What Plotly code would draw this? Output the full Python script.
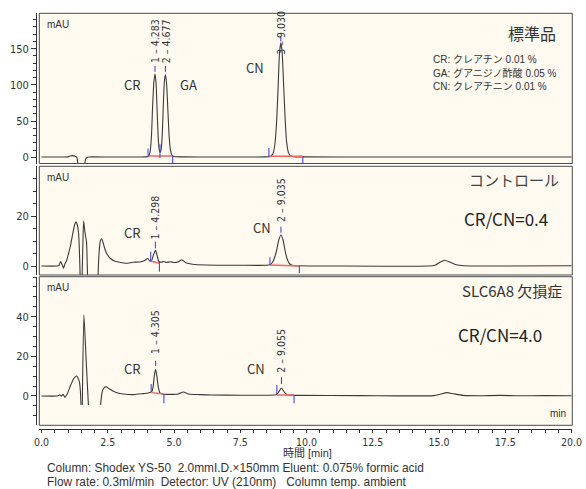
import plotly.graph_objects as go

# ---------------- data ----------------
# Panel 1: standard (標準品)
std_t = [0, 0.6, 1.0, 1.08, 1.17, 1.26, 1.33, 1.39, None, 1.62, 1.66, 1.72, 1.8, 2.6, 3.5,
         3.95, 4.04, 4.10, 4.15, 4.19, 4.24, 4.283, 4.32, 4.36, 4.40, 4.44, 4.48, 4.52, 4.56,
         4.60, 4.64, 4.677, 4.72, 4.77, 4.82, 4.87, 4.93, 5.0, 5.3, 6.5, 8.0, 8.45, 8.62, 8.72,
         8.80, 8.87, 8.93, 8.98, 9.03, 9.08, 9.13, 9.19, 9.25, 9.32, 9.40, 9.52, 9.8, 12.5, 16, 20]
std_v = [0.5, 0.5, 0.6, 1.8, 2.3, 1.6, 0.3, -15, None, -15, -3, 0.1, 0.5, 0.4, 0.5,
         0.6, 1.5, 8, 30, 68, 104, 115, 104, 68, 30, 11, 7, 12, 34,
         76, 106, 114, 102, 64, 27, 9, 2.5, 1.0, 0.6, 0.5, 0.5, 0.6, 1.2, 4,
         16, 48, 98, 143, 158, 145, 106, 56, 21, 6.5, 2, 0.9, 0.6, 0.5, 0.5, 0.5]

# Panel 2: control (コントロール)
ctl_t = [0, 0.6, 0.66, 0.72, 0.78, 0.83, 0.88, 0.95, 1.02, 1.09, 1.18, 1.25, 1.30, 1.35, 1.40,
         1.44, 1.46, None, 1.53, 1.56, 1.59, 1.64, 1.70, 1.72, 1.74, None, 2.13, 2.17, 2.22,
         2.27, 2.33, 2.40, 2.48, 2.60, 2.75, 2.95, 3.2, 3.45, 3.7, 3.88, 4.0, 4.09, 4.16, 4.23,
         4.298, 4.36, 4.43, 4.52, 4.62, 4.72, 4.85, 5.0, 5.15, 5.3, 5.45, 5.7, 6.2, 7.5, 8.5,
         8.62, 8.72, 8.80, 8.87, 8.95, 9.035, 9.12, 9.19, 9.27, 9.36, 9.46, 9.7, 11, 14.6,
         14.85, 15.05, 15.22, 15.42, 15.65, 15.95, 17.5, 20]
ctl_v = [0, 0, 0.2, 1.8, 0.5, -0.9, 0.8, 2.2, 5, 8, 13, 16.5, 17.7, 16.5, 13,
         3, -5, None, -5, 8, 18, 13.5, 9.5, 3, -5, None, -5, 5, 10,
         10.9, 9.2, 6.5, 4.6, 3.0, 2.0, 1.5, 1.1, 1.5, 1.6, 2.1, 3.0, 2.0, 2.4, 4.6,
         6.3, 4.3, 1.8, 1.5, 1.8, 1.4, 1.7, 1.4, 1.6, 2.5, 1.3, 0.7, 0.4, 0.3, 0.3,
         0.5, 1.5, 3.5, 6.2, 10.3, 12.4, 10.3, 6.2, 2.8, 0.9, 0.3, 0.1, 0.0, 0.0,
         0.3, 1.6, 2.3, 1.5, 0.5, 0.1, 0.0, 0.1]

# Panel 3: SLC6A8 deficiency (SLC6A8 欠損症)
pt_t = [0, 0.6, 0.66, 0.70, 0.76, 0.82, 0.89, 0.97, 1.03, 1.08, 1.20, 1.28, 1.33, 1.38, 1.43,
        1.47, 1.49, None, 1.54, 1.60, 1.685, 1.77, None, 2.23, 2.28, 2.33, 2.43, 2.55, 2.68,
        2.85, 3.09, 3.46, 3.84, 4.03, 4.16, 4.21, 4.255, 4.305, 4.355, 4.41, 4.47, 4.57, 4.85,
        5.16, 5.35, 5.54, 5.98, 6.4, 7.5, 8.8, 8.88, 8.95, 9.055, 9.16, 9.26, 9.38, 9.7, 12,
        14.8, 15.05, 15.3, 15.55, 15.9, 16.5, 17.3, 18, 19, 20]
pt_v = [0, 0, 0.3, 0.5, 0.0, 0.8, -0.7, 1.0, 3.0, 4.7, 8.4, 9.8, 10.1, 9.0, 7.2,
        2, -4.5, None, -4.5, 40.8, 18, -4.5, None, -4.5, 1.5, 3.5, 4.7, 3.7, 2.6,
        1.6, 1.0, 0.7, 1.2, 1.5, 2.2, 4.5, 10, 13.4, 10, 4.3, 1.6, 1.0, 0.8,
        1.0, 2.0, 1.0, 0.7, 0.5, 0.4, 0.5, 0.8, 2.0, 4.0, 2.0, 0.8, 0.4, 0.3, 0.2,
        0.2, 0.9, 1.7, 1.1, 0.3, 0.1, 0.3, 0.1, 0.2, 0.1]

# integration results: peak retention times, labels, event ticks, baselines
std_peak_t = [4.283, 4.677, 9.030]
std_peak_lbl = ["1 – 4.283", "2 – 4.677", "3 – 9.030"]
std_lbl_base = [129, 129, 140]
std_dash = [(118, 126), (118, 126), (160, 167)]
std_events = [(4.02, 0, 12), (4.47, -1, 18), (4.95, -8, 2), (8.58, 0, 13), (9.86, -8, 1)]
std_baselines = [(4.02, 1.8, 4.95, 1.8), (8.58, 1.5, 9.86, 1.5)]

ctl_peak_t = [4.298, 9.035]
ctl_peak_lbl = ["1 – 4.298", "2 – 9.035"]
ctl_lbl_base = [10.4, 17.2]
ctl_dash = [(7.1, 9.7), (13.3, 15.7)]
ctl_events = [(4.12, 1.7, 5.7), (4.45, -2.3, 1.7), (8.62, 0.4, 3.5), (9.73, -2.9, 0)]
ctl_baselines = [(4.12, 2.0, 4.45, 1.1), (8.62, 0.4, 9.73, 0.0)]

pt_peak_t = [4.305, 9.055]
pt_peak_lbl = ["1 – 4.305", "2 – 9.055"]
pt_lbl_base = [20.5, 11.4]
pt_dash = [(15.1, 17.8), (6.0, 9.4)]
pt_events = [(4.14, 2.2, 6.0), (4.62, -3.7, 1.0), (8.88, 1.0, 5.5), (9.53, -3.7, 0.5)]
pt_baselines = [(4.14, 1.7, 4.62, 1.0), (8.88, 0.5, 9.53, 0.5)]

x_tick_vals = [0, 2.5, 5, 7.5, 10, 12.5, 15, 17.5, 20]
std_y_ticks = [0, 50, 100, 150]
ctl_y_ticks = [0, 20]
pt_y_ticks = [0, 20, 40]

# ---------------- styling / layout ----------------
W, H = 586, 489
def fx(px): return px / W
def fy(py): return 1 - py / H

LINE = "#3a3a3a"
RED = "#f06464"
BLUE = "#4646e6"
TXT = "#333333"
JP = "Noto Sans CJK JP, sans-serif"
LAT = "Liberation Sans, Noto Sans CJK JP, sans-serif"
NARROW = "Liberation Sans Narrow, DejaVu Sans Condensed, Roboto Condensed, Noto Sans CJK JP, sans-serif"

X_RANGE = [-0.083, 20.03]
X_DOM = [fx(39.3), fx(572.3)]
panels = [
    dict(xa="x", ya="y", t=std_t, v=std_v, pk=std_peak_t, lbl=std_peak_lbl, lb=std_lbl_base,
         dash=std_dash, ev=std_events, bl=std_baselines, ticks=std_y_ticks,
         dom=[fy(163.5), fy(13.3)], rng=[-8.56, 198.9], mdtick=10),
    dict(xa="x2", ya="y2", t=ctl_t, v=ctl_v, pk=ctl_peak_t, lbl=ctl_peak_lbl, lb=ctl_lbl_base,
         dash=ctl_dash, ev=ctl_events, bl=ctl_baselines, ticks=ctl_y_ticks,
         dom=[fy(275), fy(166.3)], rng=[-3.6, 39.88], mdtick=5),
    dict(xa="x3", ya="y3", t=pt_t, v=pt_v, pk=pt_peak_t, lbl=pt_peak_lbl, lb=pt_lbl_base,
         dash=pt_dash, ev=pt_events, bl=pt_baselines, ticks=pt_y_ticks,
         dom=[fy(425.3), fy(276.7)], rng=[-14.78, 60.16], mdtick=5),
]

fig = go.Figure()
annotations = []
shapes = []
layout = {}

for i, p in enumerate(panels):
    xa, ya = p["xa"], p["ya"]
    fig.add_trace(go.Scatter(x=p["t"], y=p["v"], mode="lines", xaxis=xa, yaxis=ya,
                             line=dict(color=LINE, width=1.1, shape="spline", smoothing=0.6),
                             connectgaps=False, hoverinfo="skip", showlegend=False))
    # red baselines
    bx, by = [], []
    for (s, sv, e, ev) in p["bl"]:
        bx += [s, e, None]; by += [sv, ev, None]
    fig.add_trace(go.Scatter(x=bx, y=by, mode="lines", xaxis=xa, yaxis=ya,
                             line=dict(color=RED, width=1.4), hoverinfo="skip", showlegend=False))
    # blue event ticks and dashes above peaks
    ex, ey = [], []
    for (t, lo, hi) in p["ev"]:
        ex += [t, t, None]; ey += [lo, hi, None]
    for t, (lo, hi) in zip(p["pk"], p["dash"]):
        ex += [t, t, None]; ey += [lo, hi, None]
    fig.add_trace(go.Scatter(x=ex, y=ey, mode="lines", xaxis=xa, yaxis=ya,
                             line=dict(color=BLUE, width=1.1), hoverinfo="skip", showlegend=False))
    # rotated peak labels
    for t, txt, b in zip(p["pk"], p["lbl"], p["lb"]):
        annotations.append(dict(x=t, y=b, xref=xa, yref=ya, text=txt, textangle=-90,
                                showarrow=False, xanchor="center", yanchor="bottom",
                                font=dict(family=NARROW, size=10.5, color=TXT), borderpad=0))
    # frame
    shapes.append(dict(type="rect", xref=f"{xa} domain", yref=f"{ya} domain",
                       x0=0, x1=1, y0=0, y1=1, line=dict(color="#4a4a4a", width=1), layer="above"))
    axn = "xaxis" if i == 0 else f"xaxis{i+1}"
    ayn = "yaxis" if i == 0 else f"yaxis{i+1}"
    xd = dict(domain=X_DOM, range=X_RANGE, showgrid=False, zeroline=False, fixedrange=True)
    if i < 2:
        xd.update(anchor=ya, showticklabels=False, ticks="", showline=False)
    else:
        xd.update(anchor="free", position=fy(429.3), showline=True, linecolor=TXT, linewidth=1,
                  ticks="outside", ticklen=3, tickcolor=TXT, tickmode="array",
                  tickvals=x_tick_vals, tickformat=".1f",
                  tickfont=dict(family=NARROW, size=10.5, color=TXT),
                  minor=dict(dtick=0.5, tick0=0, ticks="outside", ticklen=2.5, tickcolor=TXT))
    layout[axn] = xd
    layout[ayn] = dict(domain=p["dom"], range=p["rng"], anchor="free", position=fx(35.5),
                       showline=True, linecolor=TXT, linewidth=1, showgrid=False, zeroline=False,
                       ticks="outside", ticklen=4.5, tickcolor=TXT, tickmode="array",
                       tickvals=p["ticks"],
                       tickfont=dict(family=NARROW, size=11, color=TXT),
                       minor=dict(dtick=p["mdtick"], tick0=0, ticks="outside", ticklen=2.5,
                                  tickcolor=TXT), fixedrange=True)

def ann(text, px, py, size, xanchor="left", family=JP, color=TXT, **kw):
    annotations.append(dict(x=fx(px), y=fy(py), xref="paper", yref="paper", text=text,
                            showarrow=False, xanchor=xanchor, yanchor="middle", borderpad=0,
                            font=dict(family=family, size=size, color=color), **kw))

# mAU labels
for py in (24, 177, 287):
    ann("mAU", 46, py, 10, family="Liberation Sans, sans-serif")

# compound labels (data coords)
for (txt, t, v, ya) in [("CR", 3.45, 100, "y"), ("GA", 5.53, 100, "y"), ("CN", 8.06, 124.6, "y"),
                        ("CR", 3.44, 13.3, "y2"), ("CN", 8.32, 15.6, "y2"),
                        ("CR", 3.44, 13.9, "y3"), ("CN", 8.09, 13.9, "y3")]:
    annotations.append(dict(x=t, y=v, xref="x" if ya == "y" else "x" + ya[1], yref=ya, text=txt,
                            showarrow=False, xanchor="center", yanchor="middle", borderpad=0,
                            font=dict(family=JP, size=13, color=TXT)))

ann("標準品", 557, 32.5, 16, xanchor="right")
ann("CR: クレアチン 0.01 %", 431.7, 60, 10, family=LAT)
ann("GA: グアニジノ酢酸 0.05 %", 431.7, 73, 10, family=LAT)
ann("CN: クレアチニン 0.01 %", 431.7, 86, 10, family=LAT)
ann("コントロール", 560, 179, 15, xanchor="right", color="#444444")
ann("CR/CN=0.4", 463.3, 218.5, 17, color="#222222")
ann("SLC6A8 欠損症", 562.7, 290, 15, xanchor="right")
ann("CR/CN=4.0", 456.7, 334, 17, color="#222222")
ann("min", 567.3, 413.7, 10, xanchor="right", family="Liberation Sans, sans-serif")
ann("時間 [min]", 307, 453, 11, xanchor="center", family=LAT)
ann("Column: Shodex YS-50  2.0mmI.D.×150mm Eluent: 0.075% formic acid", 46, 467.5, 11.9, family=LAT)
ann("Flow rate: 0.3ml/min  Detector: UV (210nm)   Column temp. ambient", 46, 482, 11.9, family=LAT)

fig.update_layout(width=W, height=H, margin=dict(l=0, r=0, t=0, b=0, autoexpand=False),
                  paper_bgcolor="white", plot_bgcolor="#fefaf0", showlegend=False,
                  annotations=annotations, shapes=shapes, **layout)

fig.write_html("out.html", config={"displayModeBar": False},
               post_script="document.body.style.margin='0';")
